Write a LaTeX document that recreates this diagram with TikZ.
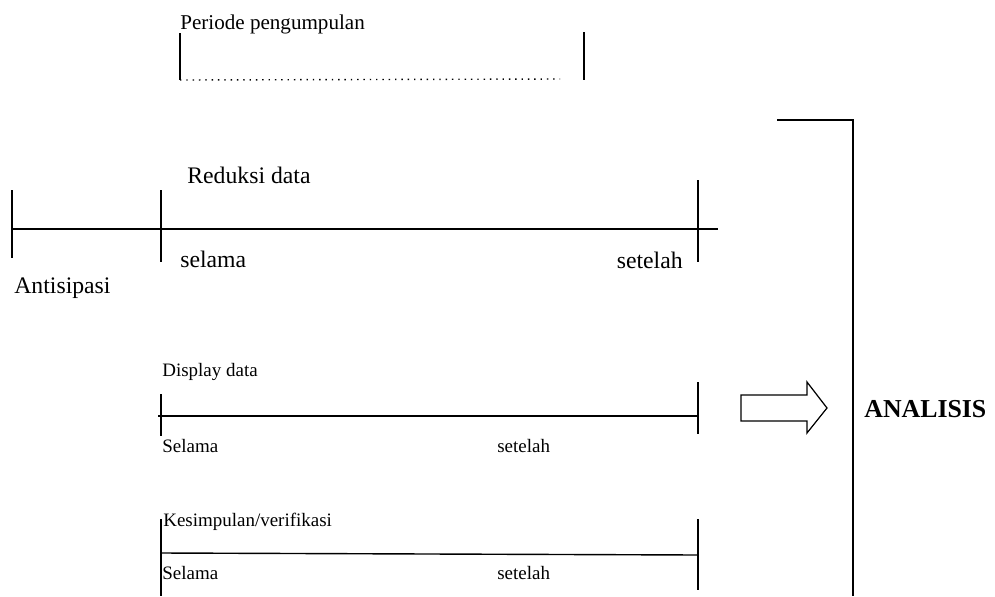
\documentclass[tikz,border=0pt]{standalone}
\usepackage{fontspec}
\setmainfont{Liberation Serif}
\usetikzlibrary{positioning}

\begin{document}
\begin{tikzpicture}[x=0.02cm, y=-0.02cm,
    rule/.style={line width=0.8pt, black},
    dotrule/.style={line width=0.8pt, dash pattern=on 0.8pt off 2.8pt},
    lbig/.style={font=\fontsize{13.5}{15}\selectfont, inner sep=0pt, anchor=west},
    lmed/.style={font=\fontsize{12}{14}\selectfont, inner sep=0pt, anchor=west},
    lsmall/.style={font=\fontsize{10.8}{13}\selectfont, inner sep=0pt, anchor=west}]
    \useasboundingbox (0,0) rectangle (995,596);

    % periode pengumpulan
    \node[lmed] (periode) at (180,24) {Periode pengumpulan};
    \coordinate (p1) at (180,33); \coordinate (p2) at (180,80);
    \coordinate (p3) at (584,32); \coordinate (p4) at (584,80);
    \coordinate (pd) at (560,79);
    \draw[rule] (p1) -- (p2);
    \draw[rule] (p3) -- (p4);
    \draw[dotrule] (p2) -- (pd);

    % reduksi data
    \node[lbig] (reduksi) at (187,175) {Reduksi data};
    \coordinate (r0) at (12,229); \coordinate (r1) at (718,229);
    \draw[rule] (r0) -- (r1);
    \coordinate (a1) at (12,190); \coordinate (a2) at (12,258);
    \coordinate (b1) at (161,190); \coordinate (b2) at (161,262);
    \coordinate (c1) at (698,180); \coordinate (c2) at (698,262);
    \draw[rule] (a1) -- (a2);
    \draw[rule] (b1) -- (b2);
    \draw[rule] (c1) -- (c2);
    \node[lbig] (selama1) at (180,259) {selama};
    \node[lbig, anchor=east] (setelah1) at (683,260) {setelah};
    \node[lbig] (antisipasi) at (14,288) {Antisipasi};

    % display data
    \node[lsmall] (display) at (162,372) {Display data};
    \coordinate (d0) at (158,416); \coordinate (d1) at (698,416);
    \draw[rule] (d0) -- (d1);
    \coordinate (e1) at (161,394); \coordinate (e2) at (161,436);
    \coordinate (f1) at (698,382); \coordinate (f2) at (698,434);
    \draw[rule] (e1) -- (e2);
    \draw[rule] (f1) -- (f2);
    \node[lsmall] (selama2) at (162,446) {Selama};
    \node[lsmall] (setelah2) at (497,446) {setelah};

    % kesimpulan/verifikasi
    \node[lsmall] (kesimpulan) at (163,522) {Kesimpulan/verifikasi};
    \coordinate (k0) at (161,553); \coordinate (k1) at (698,555);
    \draw[rule] (k0) -- (k1);
    \coordinate (g1) at (161,519); \coordinate (g2) at (161,596);
    \coordinate (h1) at (698,519); \coordinate (h2) at (698,590);
    \draw[rule] (g1) -- (g2);
    \draw[rule] (h1) -- (h2);
    \node[lsmall] (selama3) at (162,573) {Selama};
    \node[lsmall] (setelah3) at (497,573) {setelah};

    % arrow and bracket
    \draw[line width=0.7pt, line join=miter] (741,395) -- (807,395) -- (807,382) -- (827,408)
      -- (807,433) -- (807,421) -- (741,421) -- cycle;
    \coordinate (s1) at (777,120); \coordinate (s2) at (853,120); \coordinate (s3) at (853,596);
    \draw[rule] (s1) -- (s2) -- (s3);
    \node[lbig, font=\fontsize{14.7}{17}\selectfont\bfseries] (analisis) at (864,409) {ANALISIS};
\end{tikzpicture}
\end{document}
